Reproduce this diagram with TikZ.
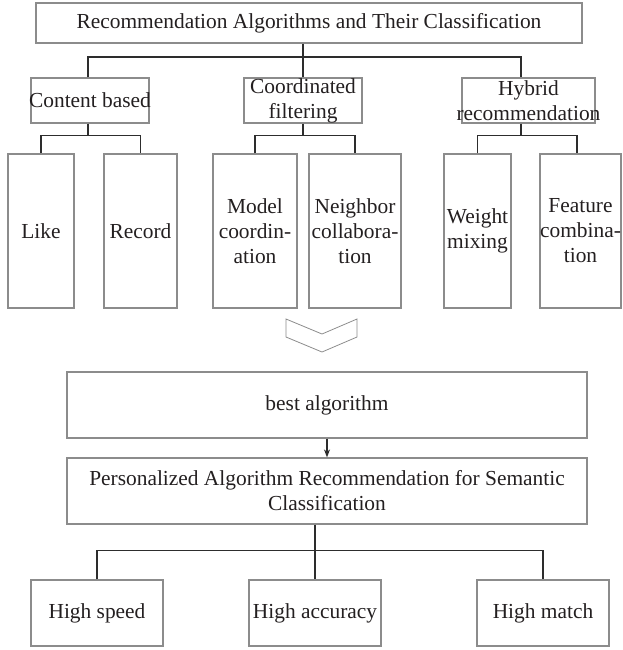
\documentclass[tikz,border=0pt]{standalone}
\usepackage{fontspec}
\setmainfont{Liberation Serif}
\usepackage{xcolor}
\usepackage{tikz}
\usetikzlibrary{arrows.meta}

\definecolor{boxgray}{RGB}{140,140,140}
\definecolor{wiregray}{RGB}{45,45,45}
\definecolor{textgray}{RGB}{35,31,32}

\begin{document}
\begin{tikzpicture}[x=0.5pt, y=-0.5pt,
	box/.style={draw=boxgray, line width=0.6pt, inner sep=0pt, align=center, text=textgray, font=\fontsize{10.7}{12.5}\selectfont},
	leaf/.style={box, minimum height=77pt},
	wire/.style={draw=wiregray, line width=0.7pt}]

\useasboundingbox (0,0) rectangle (623,650);

% top level
\node[box, minimum width=273pt, minimum height=20pt] (top) at (309,23) {Recommendation Algorithms and Their Classification};

\node[box, minimum width=59pt, minimum height=22.5pt, inner xsep=-2pt] (cb) at (90,100.5) {Content based};
\node[box, minimum width=59pt, minimum height=22.5pt] (cf) at (303,100.5) {Coordinated\\filtering};
\node[box, minimum width=66.5pt, minimum height=22.5pt, inner xsep=-4pt] (hr) at (528.5,100.5) {Hybrid\\recommendation};

\coordinate (bus) at (303,57);
\draw[wire] (top.south -| bus) -- (cf.north);
\draw[wire] ([xshift=-1pt]cb.north) |- (bus) -| ([xshift=-3.75pt]hr.north);

% leaves
\node[leaf, minimum width=33pt] (like) at (41,231) {Like};
\node[leaf, minimum width=36.5pt] (rec) at (140.5,231) {Record};
\node[leaf, minimum width=42pt] (mod) at (255,231) {Model\\coordin-\\ation};
\node[leaf, minimum width=46pt] (nei) at (355,231) {Neighbor\\collabora-\\tion};
\node[leaf, minimum width=33.5pt] (wei) at (477.5,231) {Weight\\mixing};
\node[leaf, minimum width=40.5pt, inner xsep=-2pt] (fea) at (580.5,231) {Feature\\combina-\\tion};

\draw[wire] (like.north) |- ([yshift=-6pt]cb.south) -| (rec.north);
\draw[wire] ([xshift=-1pt]cb.south) -- ([xshift=-1pt,yshift=-6pt]cb.south);

\draw[wire] (mod.north) |- ([yshift=-6pt]cf.south) -| (nei.north);
\draw[wire] (cf.south) -- ([yshift=-6pt]cf.south);

\draw[wire] (wei.north) |- ([yshift=-6pt]hr.south) -| ([xshift=-1.75pt]fea.north);
\draw[wire] ([xshift=-3.75pt]hr.south) -- ([xshift=-3.75pt,yshift=-6pt]hr.south);

% chevron
\coordinate (chev) at (322,319);
\draw[draw=boxgray, line width=0.4pt] (chev) ++(-36,0) -- ++(36,15) -- ++(35,-15) -- ++(0,18) -- ++(-35,15) -- ++(-36,-15) -- cycle;

% lower part
\node[box, minimum width=260pt, minimum height=33pt] (best) at (327,405) {best algorithm};
\node[box, minimum width=260pt, minimum height=33pt] (pers) at (327,491) {Personalized Algorithm Recommendation for Semantic\\Classification};

\draw[wire, -{Stealth[length=4pt,width=3pt]}] (best.south) -- (pers.north);

\node[box, minimum width=66pt, minimum height=33pt] (hs) at (97,613) {High speed};
\node[box, minimum width=66pt, minimum height=33pt] (ha) at (315,613) {High accuracy};
\node[box, minimum width=66pt, minimum height=33pt] (hm) at (543,613) {High match};

\draw[wire] (hs.north) |- ([yshift=-13pt]pers.south) -| (hm.north);
\draw[wire] (pers.south -| ha.north) -- (ha.north);

\end{tikzpicture}
\end{document}
